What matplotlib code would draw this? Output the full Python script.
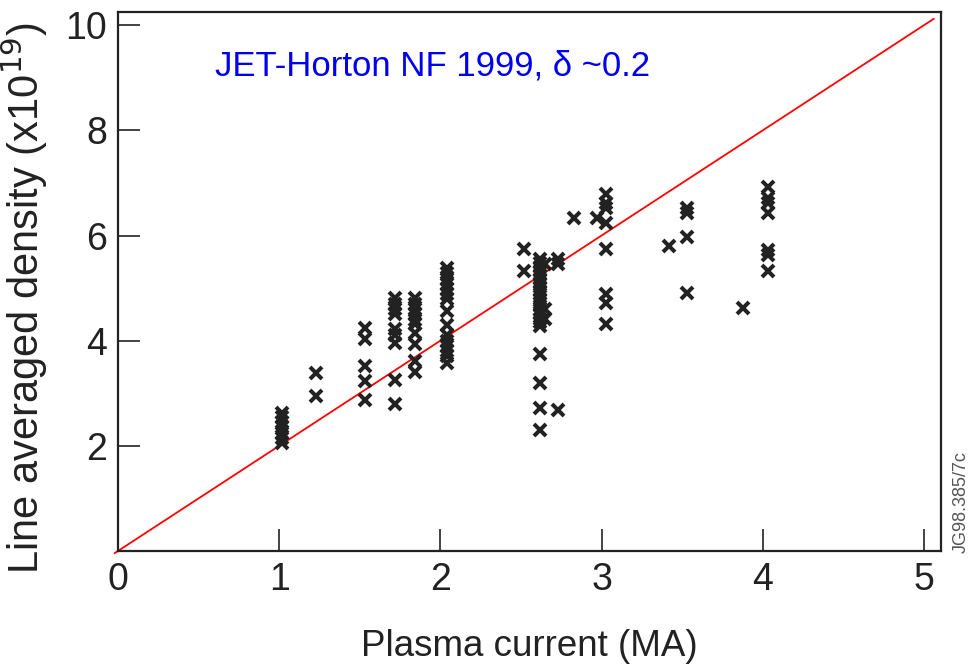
import numpy as np
import matplotlib
matplotlib.use('Agg')
import matplotlib.pyplot as plt

plt.rcParams['font.family'] = ['Liberation Sans', 'DejaVu Sans']

# plasma current (MA) for each column of shots, and density values (1e19 m^-3)
current = (
    [1.02] * 7
    + [1.23] * 2
    + [1.53] * 5
    + [1.72] * 9
    + [1.84] * 10
    + [2.04] * 15
    + [2.52] * 2
    + [2.62] * 22
    + [2.65] * 3
    + [2.73] * 3
    + [2.83, 2.97]
    + [3.03] * 8
    + [3.42]
    + [3.53] * 4
    + [3.88]
    + [4.03] * 7
)
density = (
    [2.05, 2.15, 2.25, 2.35, 2.45, 2.55, 2.63]
    + [3.38, 2.94]
    + [4.24, 4.03, 3.51, 3.23, 2.88]
    + [4.81, 4.7, 4.6, 4.5, 4.22, 4.1, 3.95, 3.26, 2.79]
    + [4.81, 4.7, 4.6, 4.5, 4.4, 4.31, 4.14, 3.93, 3.62, 3.4]
    + [5.38, 5.28, 5.18, 5.08, 4.98, 4.88, 4.79, 4.56, 4.3, 4.1, 4.0, 3.9, 3.8, 3.7, 3.58]
    + [5.74, 5.32]
    + [5.55, 5.48, 5.4, 5.32, 5.25, 5.18, 5.1, 5.02, 4.95, 4.88, 4.8, 4.72,
       4.65, 4.58, 4.5, 4.42, 4.35, 4.27, 3.74, 3.19, 2.71, 2.31]
    + [5.45, 4.6, 4.41]
    + [5.55, 5.46, 2.69]
    + [6.34, 6.34]
    + [6.79, 6.62, 6.53, 6.24, 5.74, 4.89, 4.71, 4.31]
    + [5.80]
    + [6.52, 6.43, 5.97, 4.91]
    + [4.62]
    + [6.93, 6.72, 6.62, 6.42, 5.72, 5.62, 5.32]
)

fit_x = [-0.02, 5.06]
fit_slope = 2.0

x_ticks = [0, 1, 2, 3, 4, 5]
y_ticks = [2, 4, 6, 8, 10]

fig = plt.figure(figsize=(9.71, 6.69), dpi=100)
ax = fig.add_axes([0.1215, 0.1764, 0.8475, 0.8056])

ax.plot(current, density, linestyle='none', marker='x', markersize=8,
        markeredgewidth=2.9, color='#222222', zorder=3)
ax.plot(fit_x, [fit_slope * v for v in fit_x], color='red', linewidth=1.3,
        clip_on=False, zorder=2)

ax.set_xlim(0, 5.105)
ax.set_ylim(0, 10.25)
ax.set_xticks(x_ticks)
ax.set_yticks(y_ticks)
ax.tick_params(direction='in', length=16, width=1.2, labelsize=27,
               colors='#222222')
ax.tick_params(axis='x', pad=8)
ax.tick_params(axis='y', pad=8)
for s in ax.spines.values():
    s.set_linewidth(1.6)
    s.set_color('#222222')

ax.set_xlabel('Plasma current (MA)', fontsize=26.5, color='#222222', labelpad=22)
ax.set_ylabel('Line averaged density (x10$^{19}$)', fontsize=30,
              color='#222222')
ax.yaxis.set_label_coords(-0.082, 0.47)

ax.text(0.118, 0.9, 'JET-Horton NF 1999, δ ~0.2', transform=ax.transAxes,
        fontsize=25, color='#0000ee', va='center')
fig.text(0.99, 0.25, 'JG98.385/7c', rotation=90, fontsize=13,
         color='#555555', ha='center', va='center')

fig.savefig('out.png', dpi=100)
